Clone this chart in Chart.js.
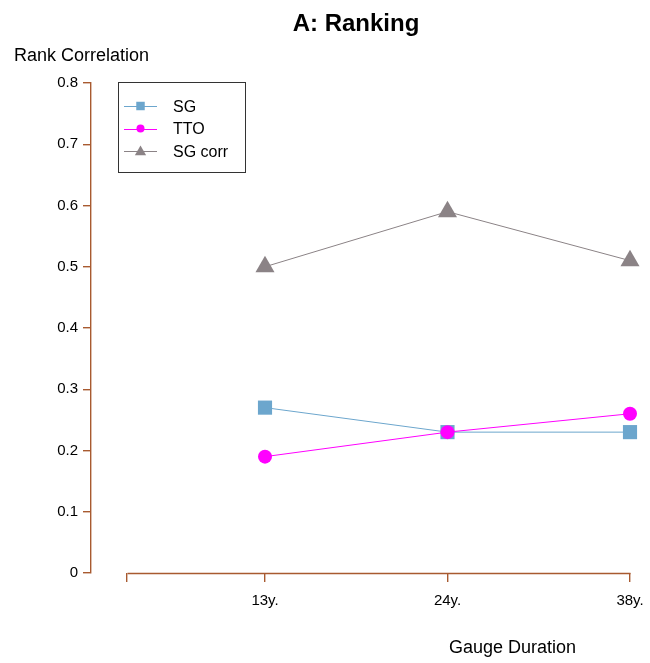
<!DOCTYPE html>
<html>
<head>
<meta charset="utf-8">
<script src="https://cdn.jsdelivr.net/npm/chart.js@4/dist/chart.umd.min.js"></script>
<style>
  html, body { margin: 0; padding: 0; background: #fff; }
  canvas { display: block; }
</style>
</head>
<body>
<canvas id="rankChart" width="650" height="663"></canvas>
<script>
// Gauge durations and their positions on the x axis
const durations = ['13y.', '24y.', '38y.'];
const durationPos = [1, 2, 3];
const xAxisStart = 0.244;           // first (unlabelled) tick of the x axis

// Rank correlation per method
const seriesNames = ['SG', 'TTO', 'SG corr'];
const sgValues = [0.27, 0.23, 0.23];
const ttoValues = [0.19, 0.23, 0.26];
const sgCorrValues = [0.50, 0.59, 0.51];

// y axis ticks
const yTickValues = [0, 0.1, 0.2, 0.3, 0.4, 0.5, 0.6, 0.7, 0.8];
const yTickLabels = ['0', '0.1', '0.2', '0.3', '0.4', '0.5', '0.6', '0.7', '0.8'];

const FONT = '"Liberation Sans", Arial, Helvetica, sans-serif';
const AXIS_COLOR = '#A85A30';
const AXIS_WIDTH = 1.4;
const SG_COLOR = '#6CA6CD';
const TTO_COLOR = '#FF00FF';
const CORR_COLOR = '#8B8386';

const toPoints = vals => vals.map((v, i) => ({ x: durationPos[i], y: v }));

const markers = [
  { style: 'rect', radius: 10, legendRadius: 6 },
  { style: 'circle', radius: 7, legendRadius: 4 },
  { style: 'triangle', radius: 11, legendRadius: 6.5 }
];
const colors = [SG_COLOR, TTO_COLOR, CORR_COLOR];
const valueSets = [sgValues, ttoValues, sgCorrValues];

const datasets = valueSets.map((vals, i) => ({
  label: seriesNames[i],
  data: toPoints(vals),
  borderColor: colors[i],
  backgroundColor: colors[i],
  borderWidth: 1,
  pointStyle: markers[i].style,
  pointRadius: markers[i].radius,
  pointBorderWidth: 0,
  pointBackgroundColor: colors[i],
  tension: 0,
  clip: false,
  order: i === 1 ? 0 : (i === 0 ? 1 : 2)
}));

function drawMarker(ctx, style, x, y, r, color) {
  ctx.save();
  ctx.fillStyle = color;
  ctx.beginPath();
  if (style === 'rect') {
    const h = r * Math.SQRT1_2;
    ctx.rect(x - h, y - h, 2 * h, 2 * h);
  } else if (style === 'circle') {
    ctx.arc(x, y, r, 0, Math.PI * 2);
  } else {
    ctx.moveTo(x, y - r);
    ctx.lineTo(x + r * Math.sin(2 * Math.PI / 3), y - r * Math.cos(2 * Math.PI / 3));
    ctx.lineTo(x + r * Math.sin(4 * Math.PI / 3), y - r * Math.cos(4 * Math.PI / 3));
    ctx.closePath();
  }
  ctx.fill();
  ctx.restore();
}

// Titles, the x axis line and the boxed legend
const decorations = {
  id: 'decorations',
  beforeDatasetsDraw(chart) {
    const ctx = chart.ctx;
    const xs = chart.scales.x;
    const bottom = chart.chartArea.bottom;
    ctx.save();
    ctx.strokeStyle = AXIS_COLOR;
    ctx.lineWidth = AXIS_WIDTH;
    ctx.beginPath();
    ctx.moveTo(Math.round(xs.getPixelForValue(xAxisStart)) + 0.5, bottom + 0.5);
    ctx.lineTo(Math.round(xs.getPixelForValue(durationPos[durationPos.length - 1])) + 0.5, bottom + 0.5);
    ctx.stroke();
    ctx.restore();
  },
  afterDraw(chart) {
    const ctx = chart.ctx;
    ctx.save();
    ctx.fillStyle = '#000';
    ctx.textBaseline = 'alphabetic';

    ctx.font = 'bold 24px ' + FONT;
    ctx.textAlign = 'center';
    ctx.fillText('A: Ranking', 356, 31);

    ctx.font = '18px ' + FONT;
    ctx.textAlign = 'left';
    ctx.fillText('Rank Correlation', 14, 61);
    ctx.fillText('Gauge Duration', 449, 653);

    // legend
    ctx.strokeStyle = '#333';
    ctx.lineWidth = 1;
    ctx.strokeRect(118.5, 82.5, 127, 90);
    const rows = [106, 128.5, 151];
    ctx.font = '16px ' + FONT;
    ctx.textBaseline = 'middle';
    chart.data.datasets.forEach((ds, i) => {
      const y = rows[i];
      ctx.strokeStyle = ds.borderColor;
      ctx.beginPath();
      ctx.moveTo(124, Math.round(y) + 0.5);
      ctx.lineTo(157, Math.round(y) + 0.5);
      ctx.stroke();
      drawMarker(ctx, markers[i].style, 140.5, y + (markers[i].style === 'triangle' ? 1 : 0), markers[i].legendRadius, ds.borderColor);
      ctx.fillStyle = '#000';
      ctx.fillText(ds.label, 173, y + 1.5);
    });
    ctx.restore();
  }
};

new Chart(document.getElementById('rankChart'), {
  type: 'line',
  data: { datasets },
  options: {
    responsive: false,
    animation: false,
    devicePixelRatio: 1,
    layout: { padding: { top: 83, right: 20, bottom: 0, left: 0 } },
    plugins: {
      legend: { display: false },
      title: { display: false },
      tooltip: { enabled: false }
    },
    scales: {
      x: {
        type: 'linear',
        min: 0.0466,
        max: 3,
        afterBuildTicks: axis => {
          axis.ticks = [xAxisStart, ...durationPos].map(v => ({ value: v }));
        },
        afterFit: scale => {
          scale.height = 90;
          scale.paddingLeft = 0;
          scale.paddingRight = 0;
        },
        grid: { drawOnChartArea: false, drawTicks: true, tickLength: 9, color: AXIS_COLOR, lineWidth: AXIS_WIDTH },
        border: { display: false },
        ticks: {
          autoSkip: false,
          maxRotation: 0,
          padding: 10,
          color: '#000',
          font: { size: 15, family: FONT },
          callback: value => {
            const i = durationPos.indexOf(value);
            return i >= 0 ? durations[i] : '';
          }
        }
      },
      y: {
        min: 0,
        max: 0.8,
        afterBuildTicks: axis => {
          axis.ticks = yTickValues.map(v => ({ value: v }));
        },
        afterFit: scale => { scale.width = 91; },
        grid: { drawOnChartArea: false, drawTicks: true, tickLength: 8, color: AXIS_COLOR, lineWidth: AXIS_WIDTH },
        border: { display: true, color: AXIS_COLOR, width: AXIS_WIDTH },
        ticks: {
          padding: 5,
          color: '#000',
          font: { size: 15, family: FONT },
          callback: (value) => {
            const i = yTickValues.findIndex(t => Math.abs(t - value) < 1e-9);
            return i >= 0 ? yTickLabels[i] : '';
          }
        }
      }
    }
  },
  plugins: [decorations]
});
</script>
</body>
</html>
